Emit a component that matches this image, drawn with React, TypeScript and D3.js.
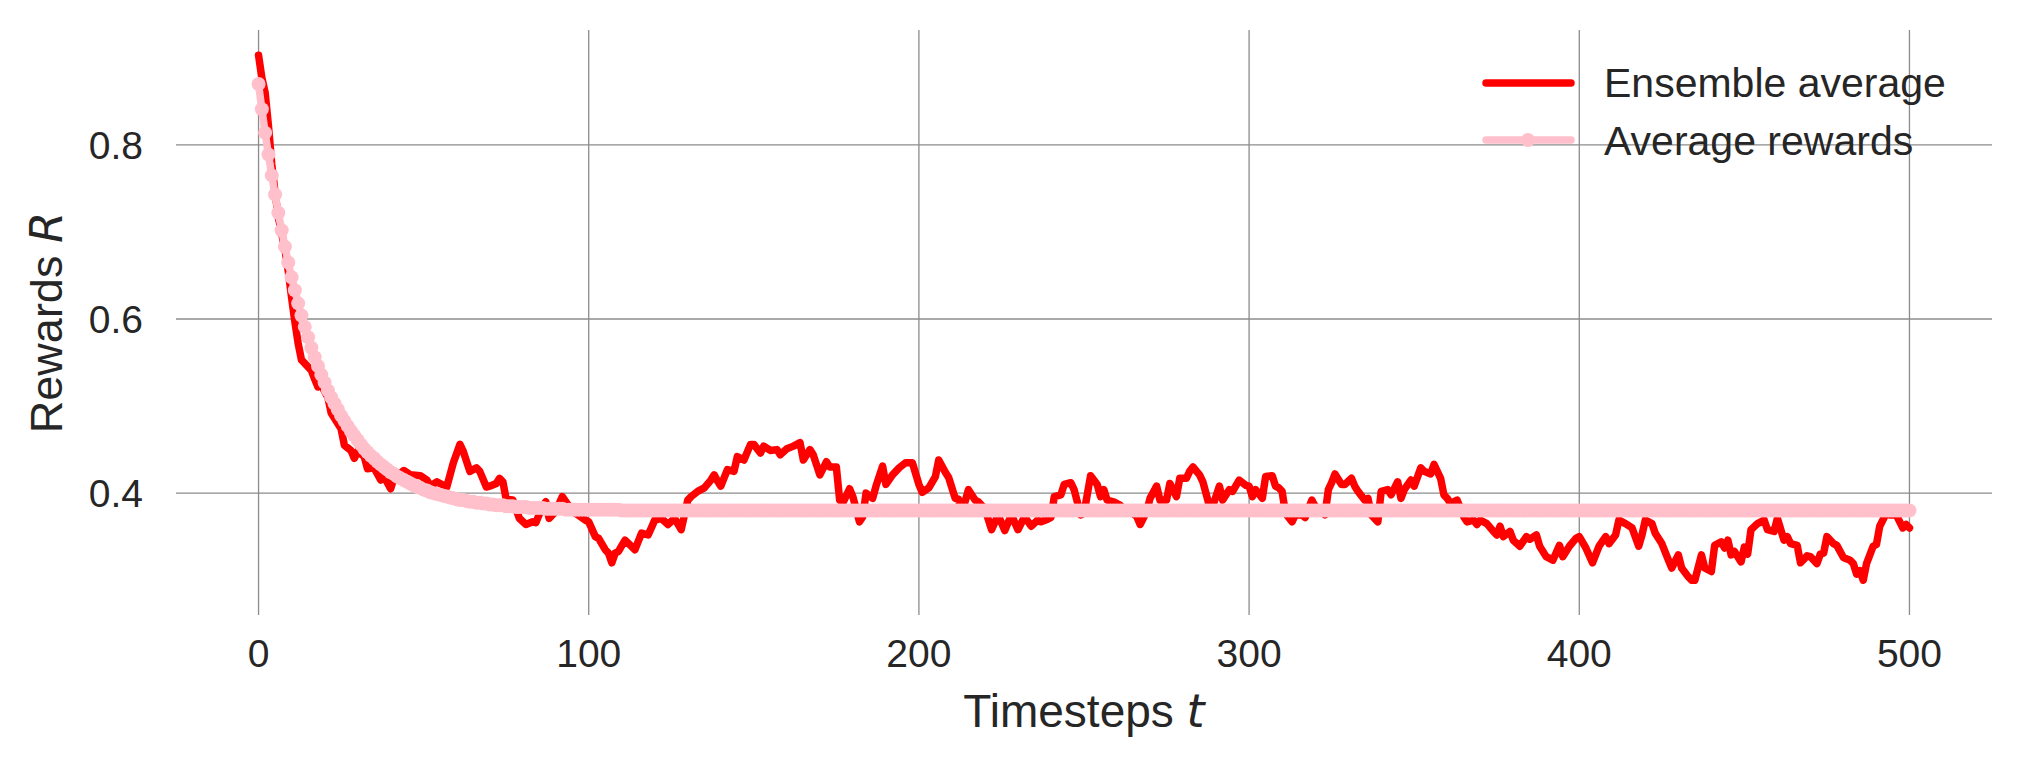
import * as d3 from "d3";

// Ensemble average (red): timestep / reward pairs
const redT = [
  0, 1, 2, 3, 4, 5, 6, 8, 9, 10, 11, 12, 13, 15, 16, 17, 18, 19, 21, 22,
  23, 25, 26, 28, 29, 30, 32, 33, 35, 37, 38, 40, 41, 44, 46, 49, 51, 52, 54, 57,
  59, 61, 62, 64, 66, 67, 69, 70, 72, 73, 74, 75, 77, 79, 81, 83, 84, 86, 87, 88,
  90, 92, 94, 96, 99, 100, 102, 103, 105, 106, 107, 108, 109, 111, 114, 116, 118, 120, 122, 124,
  126, 128, 130, 131, 133, 135, 137, 138, 139, 140, 142, 144, 145, 147, 149, 150, 152, 153, 155, 157,
  158, 160, 162, 164, 165, 167, 168, 170, 172, 173, 175, 176, 177, 179, 180, 182, 183, 184, 186, 187,
  189, 190, 192, 194, 196, 198, 200, 201, 203, 205, 206, 208, 209, 211, 212, 213, 215, 217, 218, 220,
  222, 224, 226, 228, 230, 232, 234, 236, 237, 239, 240, 241, 243, 244, 246, 247, 249, 250, 252, 254,
  255, 256, 257, 259, 261, 263, 264, 266, 267, 269, 270, 272, 273, 275, 276, 278, 279, 281, 282, 283,
  285, 286, 288, 289, 291, 292, 294, 295, 297, 299, 300, 301, 302, 304, 305, 307, 308, 309, 310, 311,
  313, 314, 316, 317, 319, 320, 323, 324, 325, 326, 328, 329, 331, 332, 333, 335, 336, 337, 339, 340,
  342, 343, 345, 346, 347, 349, 350, 352, 353, 355, 356, 358, 359, 360, 361, 363, 365, 366, 368, 369,
  370, 372, 374, 375, 376, 377, 379, 380, 382, 384, 385, 387, 388, 390, 392, 394, 395, 397, 399, 400,
  402, 404, 406, 408, 409, 411, 412, 414, 416, 418, 419, 420, 422, 423, 425, 427, 428, 430, 431, 433,
  434, 435, 437, 438, 440, 441, 443, 444, 445, 446, 447, 449, 450, 451, 452, 454, 456, 457, 459, 460,
  462, 463, 464, 466, 467, 469, 470, 472, 473, 474, 475, 477, 478, 480, 482, 483, 484, 485, 486, 487,
  489, 490, 491, 493, 494, 496, 498, 499, 500,
];
const redR = [
  0.903, 0.877, 0.86, 0.822, 0.778, 0.745, 0.717, 0.68, 0.655, 0.625, 0.597, 0.572, 0.553, 0.545, 0.541, 0.531, 0.522, 0.524, 0.51, 0.492,
  0.486, 0.474, 0.455, 0.449, 0.44, 0.448, 0.442, 0.428, 0.429, 0.415, 0.419, 0.405, 0.417, 0.426, 0.421, 0.42, 0.415, 0.408, 0.413, 0.407,
  0.435, 0.456, 0.448, 0.425, 0.429, 0.425, 0.407, 0.408, 0.411, 0.417, 0.413, 0.393, 0.392, 0.371, 0.364, 0.367, 0.366, 0.385, 0.39, 0.371,
  0.379, 0.396, 0.385, 0.377, 0.369, 0.367, 0.35, 0.348, 0.335, 0.331, 0.32, 0.331, 0.333, 0.346, 0.335, 0.354, 0.352, 0.369, 0.371, 0.364,
  0.371, 0.358, 0.392, 0.396, 0.402, 0.406, 0.415, 0.421, 0.414, 0.408, 0.427, 0.425, 0.442, 0.438, 0.456, 0.456, 0.446, 0.454, 0.449, 0.45,
  0.444, 0.451, 0.454, 0.458, 0.438, 0.45, 0.444, 0.421, 0.436, 0.43, 0.43, 0.392, 0.389, 0.405, 0.396, 0.367, 0.373, 0.4, 0.394, 0.408,
  0.431, 0.41, 0.421, 0.429, 0.435, 0.435, 0.41, 0.401, 0.406, 0.419, 0.438, 0.424, 0.418, 0.394, 0.393, 0.377, 0.404, 0.392, 0.39, 0.382,
  0.358, 0.375, 0.357, 0.375, 0.358, 0.373, 0.362, 0.369, 0.367, 0.37, 0.372, 0.396, 0.398, 0.41, 0.412, 0.404, 0.375, 0.377, 0.42, 0.41,
  0.396, 0.404, 0.392, 0.39, 0.386, 0.377, 0.379, 0.373, 0.364, 0.379, 0.394, 0.408, 0.392, 0.392, 0.411, 0.396, 0.417, 0.417, 0.425, 0.43,
  0.421, 0.413, 0.385, 0.385, 0.408, 0.392, 0.404, 0.402, 0.415, 0.409, 0.408, 0.396, 0.404, 0.394, 0.419, 0.42, 0.408, 0.406, 0.402, 0.377,
  0.367, 0.375, 0.375, 0.372, 0.392, 0.385, 0.375, 0.404, 0.412, 0.422, 0.41, 0.41, 0.417, 0.408, 0.402, 0.392, 0.394, 0.375, 0.367, 0.402,
  0.404, 0.398, 0.413, 0.394, 0.404, 0.415, 0.408, 0.429, 0.425, 0.422, 0.433, 0.417, 0.398, 0.394, 0.388, 0.392, 0.373, 0.367, 0.369, 0.364,
  0.369, 0.365, 0.356, 0.352, 0.362, 0.35, 0.356, 0.346, 0.339, 0.35, 0.347, 0.352, 0.339, 0.327, 0.323, 0.34, 0.327, 0.339, 0.348, 0.35,
  0.337, 0.32, 0.339, 0.35, 0.342, 0.352, 0.369, 0.365, 0.36, 0.339, 0.352, 0.369, 0.365, 0.354, 0.342, 0.323, 0.314, 0.329, 0.314, 0.304,
  0.3, 0.3, 0.329, 0.314, 0.31, 0.34, 0.344, 0.337, 0.346, 0.329, 0.333, 0.321, 0.338, 0.33, 0.358, 0.365, 0.369, 0.358, 0.356, 0.371,
  0.346, 0.35, 0.342, 0.34, 0.32, 0.328, 0.327, 0.319, 0.33, 0.331, 0.35, 0.342, 0.34, 0.326, 0.323, 0.319, 0.307, 0.311, 0.3, 0.319,
  0.339, 0.341, 0.362, 0.377, 0.375, 0.375, 0.36, 0.364, 0.36,
];

// Average rewards (pink): one value per timestep 0..500
const pinkR = [
  0.87, 0.841, 0.814, 0.789, 0.765, 0.743, 0.722, 0.702, 0.683, 0.665, 0.648, 0.633, 0.618, 0.604, 0.591, 0.579, 0.567, 0.556, 0.546, 0.536,
  0.527, 0.518, 0.51, 0.503, 0.496, 0.489, 0.483, 0.477, 0.471, 0.466, 0.461, 0.456, 0.451, 0.447, 0.443, 0.44, 0.436, 0.433, 0.43, 0.427,
  0.424, 0.422, 0.419, 0.417, 0.415, 0.413, 0.411, 0.409, 0.407, 0.406, 0.404, 0.403, 0.401, 0.4, 0.399, 0.398, 0.397, 0.396, 0.395, 0.394,
  0.393, 0.392, 0.392, 0.391, 0.39, 0.39, 0.389, 0.389, 0.388, 0.388, 0.387, 0.387, 0.386, 0.386, 0.386, 0.385, 0.385, 0.385, 0.384, 0.384,
  0.384, 0.384, 0.383, 0.383, 0.383, 0.383, 0.383, 0.382, 0.382, 0.382, 0.382, 0.382, 0.382, 0.381, 0.381, 0.381, 0.381, 0.381, 0.381, 0.381,
  0.381, 0.381, 0.381, 0.381, 0.381, 0.381, 0.381, 0.381, 0.381, 0.381, 0.38, 0.38, 0.38, 0.38, 0.38, 0.38, 0.38, 0.38, 0.38, 0.38,
  0.38, 0.38, 0.38, 0.38, 0.38, 0.38, 0.38, 0.38, 0.38, 0.38, 0.38, 0.38, 0.38, 0.38, 0.38, 0.38, 0.38, 0.38, 0.38, 0.38,
  0.38, 0.38, 0.38, 0.38, 0.38, 0.38, 0.38, 0.38, 0.38, 0.38, 0.38, 0.38, 0.38, 0.38, 0.38, 0.38, 0.38, 0.38, 0.38, 0.38,
  0.38, 0.38, 0.38, 0.38, 0.38, 0.38, 0.38, 0.38, 0.38, 0.38, 0.38, 0.38, 0.38, 0.38, 0.38, 0.38, 0.38, 0.38, 0.38, 0.38,
  0.38, 0.38, 0.38, 0.38, 0.38, 0.38, 0.38, 0.38, 0.38, 0.38, 0.38, 0.38, 0.38, 0.38, 0.38, 0.38, 0.38, 0.38, 0.38, 0.38,
  0.38, 0.38, 0.38, 0.38, 0.38, 0.38, 0.38, 0.38, 0.38, 0.38, 0.38, 0.38, 0.38, 0.38, 0.38, 0.38, 0.38, 0.38, 0.38, 0.38,
  0.38, 0.38, 0.38, 0.38, 0.38, 0.38, 0.38, 0.38, 0.38, 0.38, 0.38, 0.38, 0.38, 0.38, 0.38, 0.38, 0.38, 0.38, 0.38, 0.38,
  0.38, 0.38, 0.38, 0.38, 0.38, 0.38, 0.38, 0.38, 0.38, 0.38, 0.38, 0.38, 0.38, 0.38, 0.38, 0.38, 0.38, 0.38, 0.38, 0.38,
  0.38, 0.38, 0.38, 0.38, 0.38, 0.38, 0.38, 0.38, 0.38, 0.38, 0.38, 0.38, 0.38, 0.38, 0.38, 0.38, 0.38, 0.38, 0.38, 0.38,
  0.38, 0.38, 0.38, 0.38, 0.38, 0.38, 0.38, 0.38, 0.38, 0.38, 0.38, 0.38, 0.38, 0.38, 0.38, 0.38, 0.38, 0.38, 0.38, 0.38,
  0.38, 0.38, 0.38, 0.38, 0.38, 0.38, 0.38, 0.38, 0.38, 0.38, 0.38, 0.38, 0.38, 0.38, 0.38, 0.38, 0.38, 0.38, 0.38, 0.38,
  0.38, 0.38, 0.38, 0.38, 0.38, 0.38, 0.38, 0.38, 0.38, 0.38, 0.38, 0.38, 0.38, 0.38, 0.38, 0.38, 0.38, 0.38, 0.38, 0.38,
  0.38, 0.38, 0.38, 0.38, 0.38, 0.38, 0.38, 0.38, 0.38, 0.38, 0.38, 0.38, 0.38, 0.38, 0.38, 0.38, 0.38, 0.38, 0.38, 0.38,
  0.38, 0.38, 0.38, 0.38, 0.38, 0.38, 0.38, 0.38, 0.38, 0.38, 0.38, 0.38, 0.38, 0.38, 0.38, 0.38, 0.38, 0.38, 0.38, 0.38,
  0.38, 0.38, 0.38, 0.38, 0.38, 0.38, 0.38, 0.38, 0.38, 0.38, 0.38, 0.38, 0.38, 0.38, 0.38, 0.38, 0.38, 0.38, 0.38, 0.38,
  0.38, 0.38, 0.38, 0.38, 0.38, 0.38, 0.38, 0.38, 0.38, 0.38, 0.38, 0.38, 0.38, 0.38, 0.38, 0.38, 0.38, 0.38, 0.38, 0.38,
  0.38, 0.38, 0.38, 0.38, 0.38, 0.38, 0.38, 0.38, 0.38, 0.38, 0.38, 0.38, 0.38, 0.38, 0.38, 0.38, 0.38, 0.38, 0.38, 0.38,
  0.38, 0.38, 0.38, 0.38, 0.38, 0.38, 0.38, 0.38, 0.38, 0.38, 0.38, 0.38, 0.38, 0.38, 0.38, 0.38, 0.38, 0.38, 0.38, 0.38,
  0.38, 0.38, 0.38, 0.38, 0.38, 0.38, 0.38, 0.38, 0.38, 0.38, 0.38, 0.38, 0.38, 0.38, 0.38, 0.38, 0.38, 0.38, 0.38, 0.38,
  0.38, 0.38, 0.38, 0.38, 0.38, 0.38, 0.38, 0.38, 0.38, 0.38, 0.38, 0.38, 0.38, 0.38, 0.38, 0.38, 0.38, 0.38, 0.38, 0.38,
  0.38,
];

const xTicks = [0, 100, 200, 300, 400, 500];
const yTicks = [0.4, 0.6, 0.8];
const seriesNames = ["Ensemble average", "Average rewards"];

const W = 2018;
const H = 767;
const plot = { left: 176, right: 1992, top: 30, bottom: 615 };
const textColor = "#262626";
const gridColor = "#8c8c8c";
const font = "'Liberation Sans', Arial, sans-serif";
const mathFont = "'DejaVu Sans', sans-serif";

export default function App() {
  const x = d3.scaleLinear().domain([-25, 525]).range([plot.left, plot.right]);
  const y = d3.scaleLinear().domain([0.26, 0.932]).range([plot.bottom, plot.top]);

  const redPts: [number, number][] = redT.map((t, i) => [t, redR[i]]);
  const pinkPts: [number, number][] = pinkR.map((v, i) => [i, v]);

  const line = d3
    .line<[number, number]>()
    .x((d) => x(d[0]))
    .y((d) => y(d[1]));

  const midX = (plot.left + plot.right) / 2;
  const midY = (plot.top + plot.bottom) / 2;

  return (
    <div style={{ position: "absolute", left: 0, top: 0 }}>
      <svg width={W} height={H} style={{ display: "block", background: "#fff" }}>
        <rect width={W} height={H} fill="#fff" />

        {/* grid */}
        {yTicks.map((t) => (
          <line key={"gy" + t} x1={plot.left} x2={plot.right} y1={y(t)} y2={y(t)} stroke={gridColor} strokeWidth={1.3} />
        ))}
        {xTicks.map((t) => (
          <line key={"gx" + t} x1={x(t)} x2={x(t)} y1={plot.top} y2={plot.bottom} stroke={gridColor} strokeWidth={1.3} />
        ))}

        {/* series */}
        <path d={line(redPts) ?? ""} fill="none" stroke="#ff0000" strokeWidth={7.5} strokeLinejoin="round" strokeLinecap="round" />
        <path d={line(pinkPts) ?? ""} fill="none" stroke="pink" strokeWidth={7.5} strokeLinejoin="round" strokeLinecap="round" />
        {pinkPts.map((d) => (
          <circle key={"p" + d[0]} cx={x(d[0])} cy={y(d[1])} r={7} fill="pink" />
        ))}

        {/* tick labels */}
        {xTicks.map((t) => (
          <text key={"tx" + t} x={x(t)} y={667} textAnchor="middle" fontFamily={font} fontSize={39} fill={textColor}>
            {t}
          </text>
        ))}
        {yTicks.map((t) => (
          <text key={"ty" + t} x={143} y={y(t) + 14} textAnchor="end" fontFamily={font} fontSize={39} fill={textColor}>
            {d3.format(".1f")(t)}
          </text>
        ))}

        {/* axis titles */}
        <text x={midX} y={727} textAnchor="middle" fontFamily={font} fontSize={46} fill={textColor}>
          Timesteps <tspan fontFamily={mathFont} fontStyle="italic">t</tspan>
        </text>
        <text
          transform={`translate(62,${midY}) rotate(-90)`}
          textAnchor="middle"
          fontFamily={font}
          fontSize={45}
          fill={textColor}
        >
          Rewards <tspan fontFamily={mathFont} fontStyle="italic">R</tspan>
        </text>

        {/* legend */}
        <g>
          <line x1={1486} x2={1571} y1={83} y2={83} stroke="#ff0000" strokeWidth={7.5} strokeLinecap="round" />
          <text x={1604} y={97} fontFamily={font} fontSize={41} fill={textColor}>
            {seriesNames[0]}
          </text>
          <line x1={1486} x2={1571} y1={140} y2={140} stroke="pink" strokeWidth={7.5} strokeLinecap="round" />
          <circle cx={1528} cy={140} r={7} fill="pink" />
          <text x={1604} y={155} fontFamily={font} fontSize={41} fill={textColor}>
            {seriesNames[1]}
          </text>
        </g>
      </svg>
    </div>
  );
}
